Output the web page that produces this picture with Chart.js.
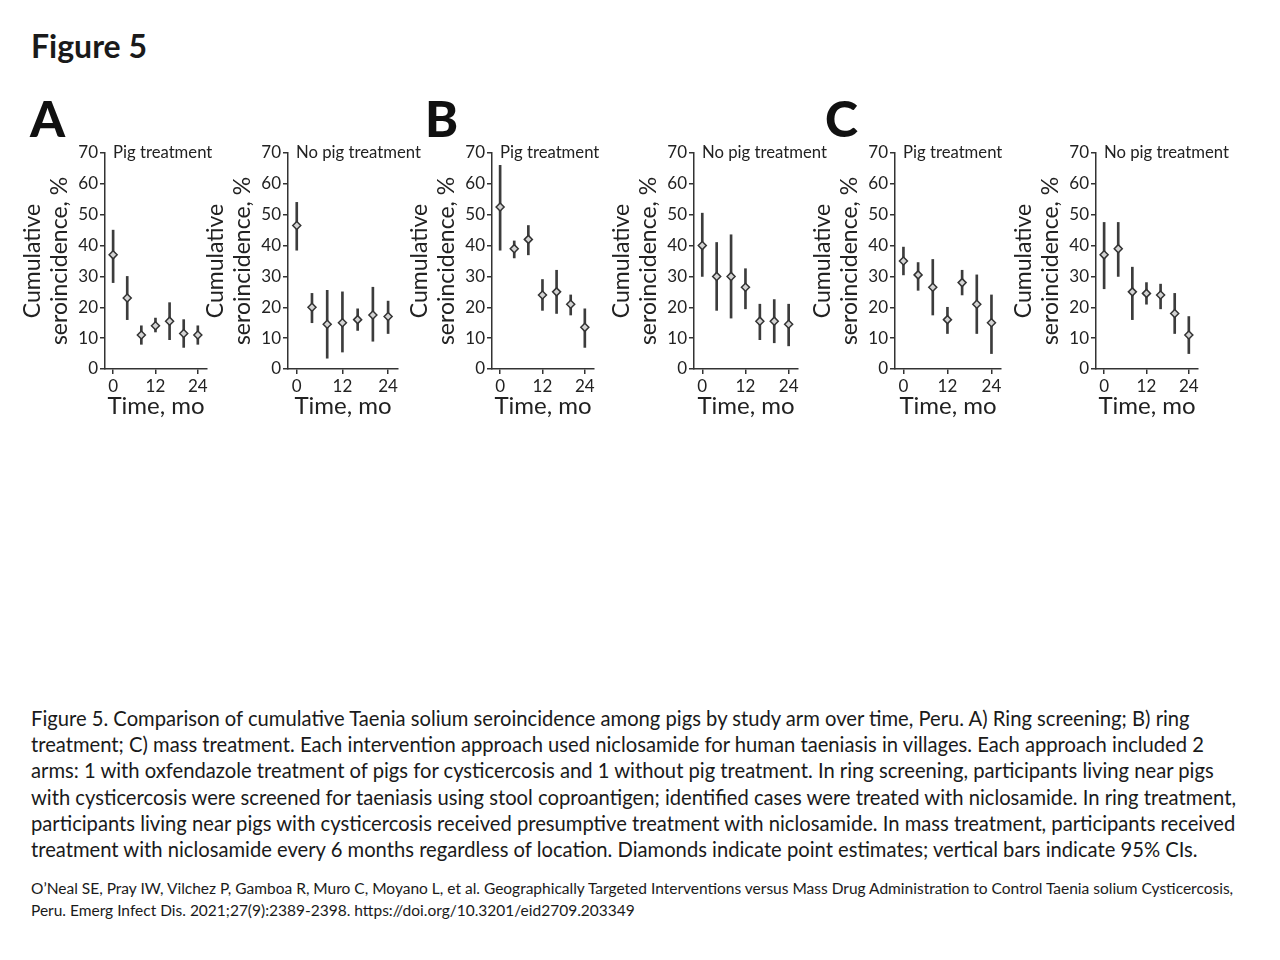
<!DOCTYPE html>
<html lang="en">
<head>
<meta charset="UTF-8" />
<title>Figure 5</title>
<script src="https://cdn.jsdelivr.net/npm/chart.js@4.4.1/dist/chart.umd.min.js"></script>
<style>
    body { margin: 0; background: #fff; font-family: Lato, "Noto Sans", sans-serif; color: #1a1a1a; }
    #page { position: relative; width: 1280px; height: 960px; overflow: hidden; }
    .fig { position: absolute; left: 31px; top: 26px; font-weight: bold; font-size: 32px; }
    .letter { position: absolute; font-weight: 900; font-size: 50px; top: 88px; color: #111; }
    canvas { position: absolute; }
    .caption { position: absolute; left: 31px; top: 705px; font-size: 20.2px; line-height: 26.2px; white-space: nowrap; }
    .cite { position: absolute; left: 31px; top: 877px; font-size: 15.5px; line-height: 22px; white-space: nowrap; }
</style>
</head>
<body>
<div id="page">
    <div class="fig">Figure 5</div>
    <div class="letter" style="left:30px">A</div>
    <div class="letter" style="left:425px">B</div>
    <div class="letter" style="left:825px">C</div>

    <canvas id="c0"></canvas>
    <canvas id="c1"></canvas>
    <canvas id="c2"></canvas>
    <canvas id="c3"></canvas>
    <canvas id="c4"></canvas>
    <canvas id="c5"></canvas>

    <div class="caption">Figure 5. Comparison of cumulative Taenia solium seroincidence among pigs by study arm over time, Peru. A) Ring screening; B) ring<br>treatment; C) mass treatment. Each intervention approach used niclosamide for human taeniasis in villages. Each approach included 2<br>arms: 1 with oxfendazole treatment of pigs for cysticercosis and 1 without pig treatment. In ring screening, participants living near pigs<br>with cysticercosis were screened for taeniasis using stool coproantigen; identified cases were treated with niclosamide. In ring treatment,<br>participants living near pigs with cysticercosis received presumptive treatment with niclosamide. In mass treatment, participants received<br>treatment with niclosamide every 6 months regardless of location. Diamonds indicate point estimates; vertical bars indicate 95% CIs.</div>
    <div class="cite">O’Neal SE, Pray IW, Vilchez P, Gamboa R, Muro C, Moyano L, et al. Geographically Targeted Interventions versus Mass Drug Administration to Control Taenia solium Cysticercosis,<br>Peru. Emerg Infect Dis. 2021;27(9):2389-2398. https://doi.org/10.3201/eid2709.203349</div>
</div>

<script>
    // time points (months) and tick labels
    const months = [0, 4, 8, 12, 16, 20, 24];
    const xTicks = [0, 12, 24];
    const panelTitles = ['Pig treatment', 'No pig treatment', 'Pig treatment', 'No pig treatment', 'Pig treatment', 'No pig treatment'];

    // A) ring screening
    const aPigEst = [37, 23, 11, 14, 15.5, 11.5, 11];
    const aPigLo  = [28, 16, 8, 12, 9.5, 7, 8];
    const aPigHi  = [45, 30, 14, 16.5, 21.5, 16, 14];
    const aNoEst  = [46.5, 20, 14.5, 15, 16, 17.5, 17];
    const aNoLo   = [38.5, 15, 3.5, 5.5, 12.5, 9, 11.5];
    const aNoHi   = [54, 24.5, 25.5, 25, 19.5, 26.5, 22];

    // B) ring treatment
    const bPigEst = [52.5, 39, 42, 24, 25, 21, 13.5];
    const bPigLo  = [38.5, 36, 37, 19, 18, 17.5, 7];
    const bPigHi  = [66, 41.5, 46.5, 29, 32, 24, 19.5];
    const bNoEst  = [40, 30, 30, 26.5, 15.5, 15.5, 14.5];
    const bNoLo   = [30, 19, 16.5, 19.5, 9.5, 8.5, 7.5];
    const bNoHi   = [50.5, 41, 43.5, 32.5, 21, 22.5, 21];

    // C) mass treatment
    const cPigEst = [35, 30.5, 26.5, 16, 28, 21, 15];
    const cPigLo  = [30.5, 25.5, 17.5, 11.5, 24, 11.5, 5];
    const cPigHi  = [39.5, 34.5, 35.5, 20, 32, 30.5, 24];
    const cNoEst  = [37, 39, 25, 24.5, 24, 18, 11];
    const cNoLo   = [26, 30, 16, 21, 19.5, 11.5, 5];
    const cNoHi   = [47.5, 47.5, 33, 28, 27.5, 24.5, 17];

    const axisX = [105, 288, 492, 694, 895, 1096];   // where each y axis sits on the page
    const areaW = [102, 110, 102, 104, 106, 102];    // plot area widths
    const Y_AXIS_W = 90;
    const CANVAS_W = 240;
    const CANVAS_H = 295;
    const ink = '#333';

    const panelTitle = {
        id: 'panelTitle',
        afterDraw(chart, args, opts) {
            const ctx = chart.ctx, a = chart.chartArea;
            ctx.save();
            ctx.font = '16.7px Lato';
            ctx.fillStyle = '#222';
            ctx.textBaseline = 'middle';
            ctx.fillText(opts.text, a.left + 8, a.top);
            ctx.restore();
        }
    };

    function makePanel(i, est, lo, hi) {
        var cv = document.getElementById('c' + i);
        cv.width = CANVAS_W;
        cv.height = CANVAS_H;
        cv.style.left = (axisX[i] - Y_AXIS_W) + 'px';
        cv.style.top = '130px';

        var bars = months.map((m, k) => ({ x: m, y: [lo[k], hi[k]] }));
        var pts = months.map((m, k) => ({ x: m, y: est[k] }));

        new Chart(cv, {
            type: 'bar',
            data: {
                datasets: [
                    { type: 'scatter', data: pts, pointStyle: 'rectRot', pointRadius: 4,
                      backgroundColor: '#d4d4d4', borderColor: ink, borderWidth: 1.5, order: 0 },
                    { type: 'bar', data: bars, backgroundColor: '#3c3c3c', barThickness: 2,
                      grouped: false, order: 1 }
                ]
            },
            plugins: [panelTitle],
            options: {
                responsive: false,
                animation: false,
                layout: { padding: { top: 23, left: 0, bottom: 0, right: CANVAS_W - Y_AXIS_W - areaW[i] } },
                plugins: {
                    legend: { display: false },
                    tooltip: { enabled: false },
                    panelTitle: { text: panelTitles[i] }
                },
                scales: {
                    x: {
                        type: 'linear', min: -2.3, max: 26.6, offset: false,
                        afterBuildTicks: s => { s.ticks = xTicks.map(v => ({ value: v })); },
                        grid: { display: true, drawOnChartArea: false, offset: false, tickLength: 5, color: ink, lineWidth: 1.5 },
                        border: { color: ink, width: 1.5 },
                        ticks: { font: { family: 'Lato', size: 17 }, color: '#222', padding: 2, maxRotation: 0 },
                        title: { display: true, text: 'Time, mo', font: { family: 'Lato', size: 24 }, color: '#222', padding: { top: 0, bottom: 4 } },
                        afterFit: s => { s.height = 56; }
                    },
                    y: {
                        min: 0, max: 70,
                        grid: { display: true, drawOnChartArea: false, tickLength: 5, color: ink, lineWidth: 1.5 },
                        border: { color: ink, width: 1.5 },
                        ticks: { stepSize: 10, font: { family: 'Lato', size: 17 }, color: '#222', padding: 2 },
                        title: { display: true, text: ['Cumulative', 'seroincidence, %'],
                                 font: { family: 'Lato', size: 23, lineHeight: 1.17 }, color: '#222', padding: { top: 4, bottom: 0 } },
                        afterFit: s => { s.width = Y_AXIS_W; }
                    }
                }
            }
        });
    }

    makePanel(0, aPigEst, aPigLo, aPigHi);
    makePanel(1, aNoEst, aNoLo, aNoHi);
    makePanel(2, bPigEst, bPigLo, bPigHi);
    makePanel(3, bNoEst, bNoLo, bNoHi);
    makePanel(4, cPigEst, cPigLo, cPigHi);
    makePanel(5, cNoEst, cNoLo, cNoHi);
</script>
</body>
</html>
